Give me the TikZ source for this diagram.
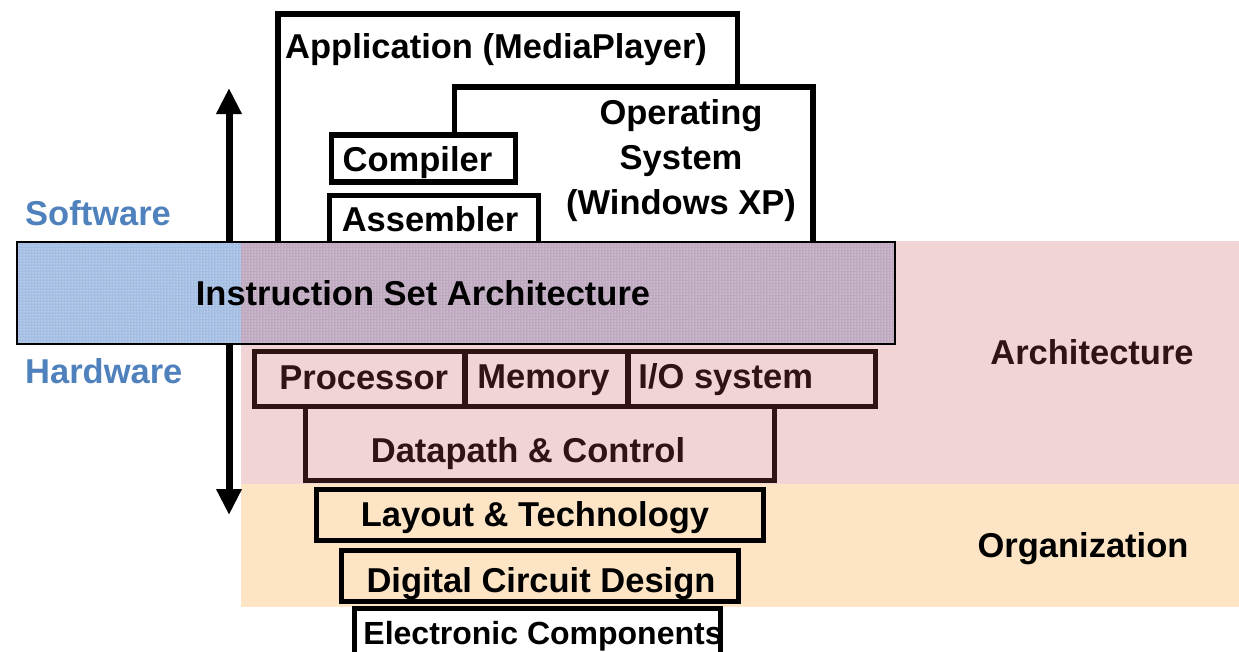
\documentclass[tikz,border=0pt]{standalone}
\usepackage{fontspec}
\setmainfont{Liberation Sans}
\usepackage{pgf,tikz}
\usetikzlibrary{arrows.meta}
\usetikzlibrary{patterns}
\definecolor{archpink}{HTML}{F0D4D6}
\definecolor{orgpeach}{HTML}{FDE4C4}
\definecolor{archbrown}{HTML}{2E1414}
\definecolor{isablue}{HTML}{A4BEE3}
\definecolor{isamauve}{HTML}{BFA9C0}
\definecolor{swblue}{HTML}{4F81BD}

\begin{document}
\begin{tikzpicture}[line join=miter,x=1pt,y=-1pt,
  txt/.style={font=\bfseries\fontsize{34.5}{45}\selectfont,inner sep=0pt},
  swbox/.style={draw=black,line width=5.5pt,fill=white},
  archbox/.style={draw=archbrown,line width=5.5pt,fill=archpink,inner sep=0pt},
  orgbox/.style={draw=black,line width=5.5pt,fill=orgpeach,inner sep=0pt}]
\useasboundingbox (0,0) rectangle (1239,651);
\clip (0,0) rectangle (1239,651);
% layer bands
\fill [archpink] (241,241) rectangle (1239,484);
\fill [orgpeach] (241,484) rectangle (1239,607);
% software side
\draw [swbox] (278,14) rectangle (737.5,250);
\node [txt,anchor=west] (app) at (285,50) {Application (MediaPlayer)};
\fill [white] (454.5,87) rectangle (813,250);
\draw [line width=5.5pt] (454.5,135) -- (454.5,87) -- (813,87) -- (813,250);
\node [txt,align=center] (os) at (681,161) {Operating\\System\\(Windows XP)};
\node [swbox,minimum width=184pt,minimum height=47pt] (compbox) at (423.5,158.5) {};
\node [txt] (comp) at ([shift={(-6,4)}]compbox.center) {Compiler};
\node [swbox,minimum width=209pt,minimum height=54.5pt] (asmbox) at (434,222.75) {};
\node [txt] (asm) at ([shift={(-4,-4)}]asmbox.center) {Assembler};
% up/down arrow
\coordinate (up) at (229,88);
\coordinate (down) at (229,515);
\draw [line width=7pt,{Triangle[width=24pt,length=26pt]}-{Triangle[width=24pt,length=26pt]}] (up) -- (down);
% ISA
\fill [isablue] (17,242) rectangle (241,344);
\fill [isamauve] (241,242) rectangle (895,344);
\fill [pattern=dots,pattern color=white] (17,242) rectangle (895,344);
\draw [line width=2pt] (17,242) rectangle (895,344);
\node [txt] (isa) at (423,293) {Instruction Set Architecture};
\node [txt,text=swblue,anchor=west] (sw) at (25,213) {Software};
\node [txt,text=swblue,anchor=west] (hw) at (25,371) {Hardware};
% architecture
\node [archbox,minimum width=210.5pt,minimum height=55pt] (procbox) at (359.75,379) {};
\node [archbox,minimum width=163pt,minimum height=55pt] (membox) at (546.5,379) {};
\node [archbox,minimum width=247.5pt,minimum height=55pt] (iobox) at (751.75,379) {};
\node [archbox,minimum width=469pt,minimum height=74pt] (dpbox) at (540,443.5) {};
\node [txt,text=archbrown] (proc) at ([shift={(4,-1)}]procbox.center) {Processor};
\node [txt,text=archbrown] (mem) at ([shift={(-3,1)}]membox.center) {Memory};
\node [txt,text=archbrown,anchor=west] (io) at ([shift={(13,1)}]iobox.west) {I/O system};
\node [txt,text=archbrown] (dp) at ([shift={(-12,10)}]dpbox.center) {Datapath \& Control};
% organization
\node [orgbox,minimum width=447pt,minimum height=51pt] (laybox) at (540,515) {};
\node [txt] (lay) at ([shift={(-5,3)}]laybox.center) {Layout \& Technology};
\node [orgbox,minimum width=397pt,minimum height=51pt] (digbox) at (540,576) {};
\node [txt] (dig) at ([shift={(1,8)}]digbox.center) {Digital Circuit Design};
\draw [swbox] (354.5,608.5) rectangle (720.5,680);
\node [txt,font=\bfseries\fontsize{32}{38}\selectfont] (elec) at (543,636) {Electronic Components};
% level names
\node [txt,text=archbrown] (arch) at (1092,352) {Architecture};
\node [txt] (org) at (1083,549) {Organization};
\end{tikzpicture}
\end{document}
